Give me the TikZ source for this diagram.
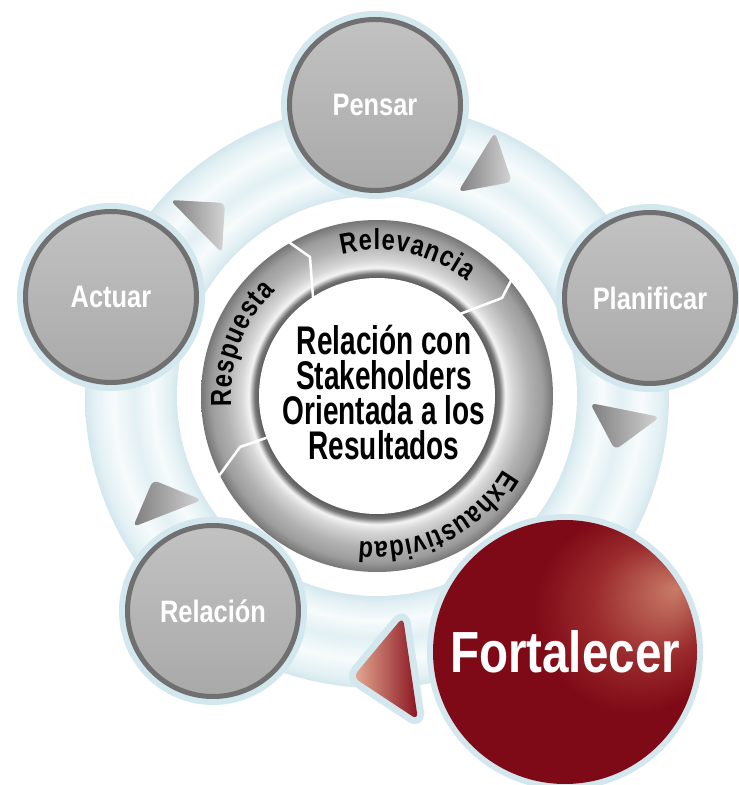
\documentclass[tikz,border=0pt]{standalone}
\usepackage{fontspec}
\setmainfont{Liberation Sans}
\newfontfamily\narrowfont{Liberation Sans}[FakeStretch=0.7]
\newfontfamily\ringfont{Liberation Sans}[FakeStretch=0.82]
\newfontfamily\stagefont{Liberation Sans}[FakeStretch=0.82]
\usetikzlibrary{decorations.text}
\definecolor{halo}{HTML}{D3E7EE}
\definecolor{bandmid}{HTML}{E2F0F4}
\definecolor{bandlight}{HTML}{F7FBFC}
\definecolor{ringdark}{HTML}{5A5A5A}
\definecolor{ringlight}{HTML}{F4F4F4}
\definecolor{ringmid}{HTML}{B2B2B2}
\definecolor{ringedge}{HTML}{767676}
\definecolor{stageline}{HTML}{707070}
\definecolor{stagetop}{HTML}{C2C2C2}
\definecolor{stagebottom}{HTML}{A9A9A9}
\definecolor{wine}{HTML}{7F0A17}
\definecolor{winemid}{HTML}{9A2A2C}
\definecolor{winelight}{HTML}{C97C68}
\definecolor{tridark}{HTML}{7E7E7E}
\definecolor{trilight}{HTML}{D4D4D4}
\definecolor{redtip}{HTML}{E6AC95}
\definecolor{redback}{HTML}{8A1520}
% 25bp is the edge of the shaded circle
\pgfdeclareradialshading{bandshade}{\pgfpoint{0bp}{0bp}}{%
  color(0bp)=(white); color(17.1bp)=(halo); color(17.8bp)=(bandmid);
  color(19.2bp)=(bandlight); color(20.8bp)=(bandmid); color(22.6bp)=(bandlight);
  color(24.3bp)=(bandmid); color(25bp)=(halo); color(50bp)=(halo)}
\pgfdeclareradialshading{ringshade}{\pgfpoint{0bp}{0bp}}{%
  color(0bp)=(white); color(16.76bp)=(ringdark); color(17.4bp)=(ringedge);
  color(18.2bp)=(ringlight); color(19.3bp)=(ringlight!55!ringmid); color(21.5bp)=(ringmid);
  color(23.5bp)=(ringmid!65!ringedge); color(25bp)=(ringedge); color(50bp)=(ringedge)}
\pgfdeclareradialshading{redball}{\pgfpoint{21bp}{12bp}}{%
  color(0bp)=(winelight); color(5bp)=(winelight!55!winemid); color(11bp)=(winemid);
  color(19bp)=(wine); color(50bp)=(wine)}

\begin{document}
\begin{tikzpicture}[
  x=1pt, y=1pt,
  stage/.style={circle, draw=stageline, line width=5pt, top color=stagetop, bottom color=stagebottom,
                minimum size=171pt, inner sep=0pt, text=white,
                font=\stagefont\bfseries\fontsize{31}{31}\selectfont,
                preaction={draw=halo, line width=17pt}},
  keystage/.style={circle, shade, shading=redball, minimum size=264pt, inner sep=0pt, text=white,
                font=\stagefont\bfseries\fontsize{58}{58}\selectfont,
                preaction={draw=halo, line width=12pt}},
  centre/.style={align=center, inner sep=0pt, text=black,
                font=\narrowfont\bfseries\fontsize{40}{35}\selectfont},
  tri/.style={left color=tridark, right color=trilight, rounded corners=6pt},
  redtri/.style={left color=redtip, right color=redback, rounded corners=7pt,
                preaction={draw=halo, line width=14pt, line join=round}},
  sep/.style={draw=white, line width=2.5pt, line join=round, line cap=round},
  ringtext/.style={decorate, decoration={text along path, text align=fit to path,
                text={|\ringfont\bfseries\fontsize{29}{29}\selectfont|#1}}},
]
\useasboundingbox (0,0) rectangle (739,785);
\fill[white] (0,0) rectangle (739,785);
\coordinate (hub) at (377,389);

% Pale blue band that carries the five stages.
\shade[shading=bandshade] (hub) circle[radius=292];
\fill[white] (hub) circle[radius=200];

% Gray tube round the centre, cut in three parts.
\shade[shading=ringshade] (hub) circle[radius=176];
\fill[white] (hub) circle[radius=118];
\draw[sep] (283,547) -- (310,528) -- (313,488);
\draw[sep] (515,512) -- (502,487) -- (460,471);
\draw[sep] (216,305) -- (240,338) -- (266,347);

% Words on the tube, set clockwise so their tops face outwards.
\path[ringtext=Relevancia] (hub) ++(104:146) arc[start angle=104, end angle=52, radius=146];
\path[ringtext=Respuesta] (hub) ++(184:146) arc[start angle=184, end angle=134, radius=146];
\path[ringtext=Exhaustividad] (hub) ++(-30:146) arc[start angle=-30, end angle=-97, radius=146];

% Central statement.
\node[centre] (core) at (384,392) {Relación con\\Stakeholders\\Orientada a los\\Resultados};

% Arrow heads between the stages, clockwise.
\shade[redtri] (403,168) -- (353,108) -- (418,65) -- cycle;
\foreach \ax/\ay/\bx/\by/\cx/\cy in {170/585/225/582/222/532, 495/653/512/603/458/593,
    590/382/660/368/615/335, 153/305/202/285/133/258} {
  \shade[tri] (\ax,\ay) -- (\bx,\by) -- (\cx,\cy) -- cycle;
}

% The five stages.
\node[stage] (pensar) at (375,680) {Pensar};
\node[stage] (planificar) at (650,487) {Planificar};
\node[stage] (actuar) at (111,488) {Actuar};
\node[stage] (relacion) at (213,174) {Relación};
\node[keystage] (fortalecer) at (565,133) {Fortalecer};
\end{tikzpicture}
\end{document}
